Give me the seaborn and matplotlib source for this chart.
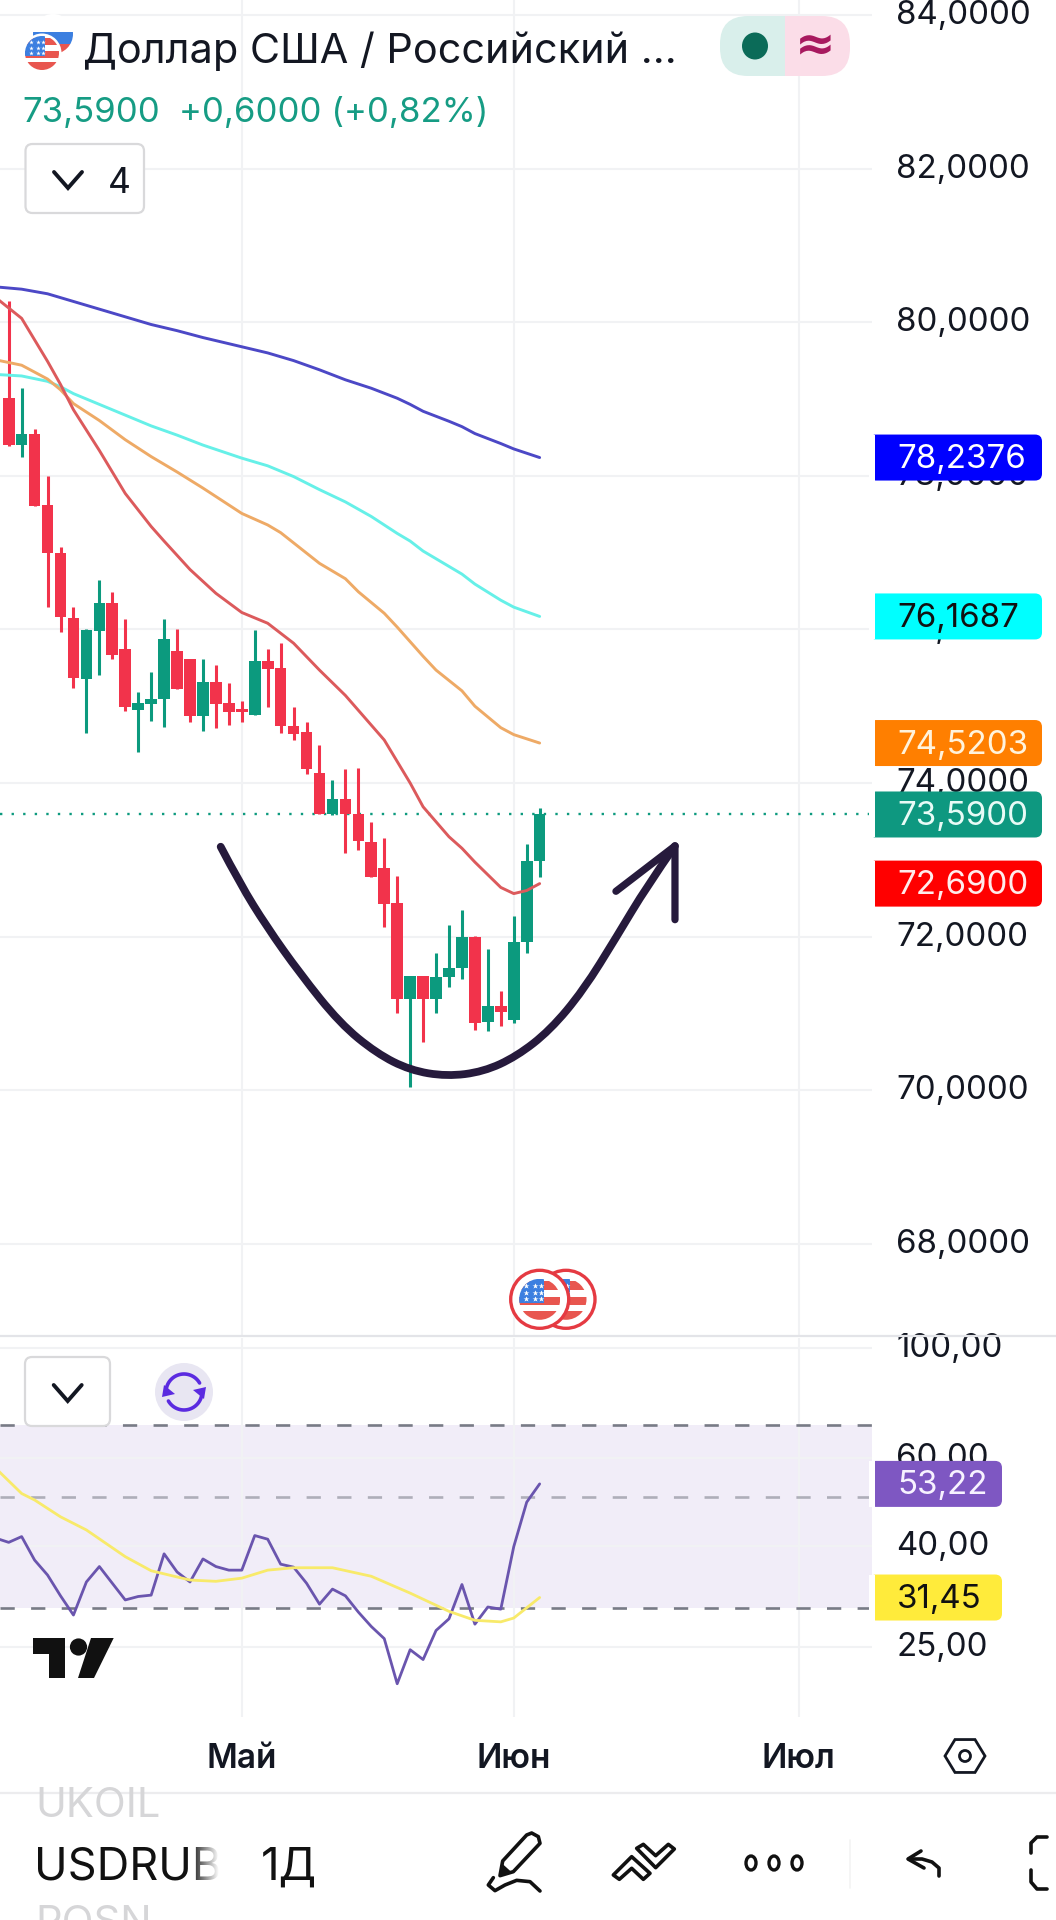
import numpy as np
import pandas as pd
import seaborn as sns
import matplotlib
matplotlib.use('Agg')
import matplotlib.pyplot as plt
from matplotlib.patches import Circle, Ellipse, FancyBboxPatch, PathPatch, Polygon, Rectangle
from matplotlib.path import Path
from matplotlib.ticker import NullLocator
from matplotlib.transforms import ScaledTranslation

# daily candles
open_p = [79.01, 78.40, 78.55, 77.62, 77.00, 76.15, 75.36, 75.98, 76.34, 75.75, 74.95, 75.03, 75.09, 75.72,
          75.62, 74.87, 75.31, 75.04, 74.96, 74.88, 75.59, 75.50, 74.74, 74.66, 74.13, 73.59, 73.79, 73.59,
          73.23, 72.89, 72.44, 71.19, 71.49, 71.19, 71.47, 71.59, 71.99, 70.89, 71.09, 70.91, 71.93, 72.99]
close_p = [78.40, 78.55, 77.61, 76.99, 76.16, 75.37, 75.99, 76.34, 75.67, 74.99, 75.04, 75.09, 75.88, 75.23,
           74.87, 75.32, 75.03, 74.93, 74.93, 75.59, 75.49, 74.74, 74.64, 74.18, 73.59, 73.79, 73.59, 73.25,
           72.77, 72.43, 71.19, 71.49, 71.19, 71.48, 71.59, 71.99, 70.88, 71.09, 71.02, 71.93, 72.99, 73.59]
high_p = [80.28, 79.14, 78.61, 78.00, 77.07, 76.29, 76.00, 76.64, 76.49, 76.14, 75.18, 75.44, 76.14, 76.00,
          75.62, 75.62, 75.54, 75.30, 75.07, 75.99, 75.75, 75.82, 74.99, 74.79, 74.49, 74.04, 74.18, 74.19,
          73.49, 73.28, 72.79, 71.49, 71.49, 71.79, 72.15, 72.35, 72.01, 71.84, 71.29, 72.27, 73.20, 73.68]
low_p = [78.39, 78.25, 77.61, 76.29, 75.96, 75.24, 74.65, 75.41, 75.62, 74.94, 74.41, 74.81, 74.73, 75.23,
         74.80, 74.68, 74.71, 74.75, 74.79, 74.88, 74.99, 74.65, 74.56, 74.12, 73.59, 73.58, 73.09, 73.13,
         72.77, 72.12, 71.00, 70.04, 70.63, 71.01, 71.35, 71.45, 70.79, 70.77, 70.83, 70.88, 71.79, 72.78]

# moving averages (bar index, value)
blue_i = [-1, 1, 3, 5, 7, 9, 11, 13, 15, 18, 20, 22, 24, 26, 28, 30, 31, 32, 34, 35, 36, 38, 39, 41]
blue_v = [80.46, 80.43, 80.37, 80.27, 80.17, 80.07, 79.97, 79.89, 79.80, 79.68, 79.60, 79.50, 79.38, 79.25,
          79.14, 79.01, 78.93, 78.84, 78.71, 78.64, 78.55, 78.42, 78.35, 78.2376]
cyan_i = [-1, 1, 3, 4, 5, 7, 9, 11, 13, 15, 18, 20, 22, 24, 26, 28, 30, 31, 32, 34, 35, 36, 38, 39, 41]
cyan_v = [79.32, 79.30, 79.23, 79.16, 79.07, 78.93, 78.79, 78.65, 78.53, 78.40, 78.23, 78.13, 77.99, 77.82,
          77.66, 77.47, 77.25, 77.15, 77.02, 76.82, 76.72, 76.59, 76.38, 76.29, 76.1687]
orange_i = [-1, 1, 3, 4, 5, 7, 9, 11, 13, 15, 18, 20, 21, 24, 26, 27, 29, 30, 31, 32, 33, 35, 36, 38, 39, 41]
orange_v = [79.51, 79.44, 79.26, 79.12, 78.94, 78.72, 78.47, 78.25, 78.05, 77.84, 77.51, 77.36, 77.26, 76.86,
            76.66, 76.49, 76.21, 76.03, 75.84, 75.65, 75.47, 75.20, 75.00, 74.72, 74.63, 74.5203]
red_i = [-1, 1, 3, 4, 5, 7, 9, 11, 12, 14, 16, 18, 20, 22, 24, 26, 29, 31, 32, 34, 35, 36, 38, 39, 40, 41]
red_v = [80.32, 80.05, 79.49, 79.19, 78.86, 78.33, 77.77, 77.34, 77.15, 76.78, 76.47, 76.22, 76.08, 75.82,
         75.47, 75.14, 74.56, 74.00, 73.69, 73.30, 73.15, 72.97, 72.64, 72.56, 72.60, 72.69]

# RSI panel
rsi_i = [-1] + list(range(42))
rsi_v = [41.4, 40.6, 41.7, 37.4, 34.9, 31.7, 29.0, 33.8, 36.3, 33.6, 31.1, 31.6, 31.8, 38.5, 35.4, 33.8, 37.6,
         36.3, 35.7, 35.7, 41.9, 41.2, 36.7, 36.2, 33.6, 30.5, 32.7, 31.7, 29.4, 27.5, 26.0, 21.1, 24.7, 23.6,
         27.0, 28.5, 33.4, 27.8, 30.1, 29.8, 39.8, 48.9, 53.22]
rsi_ma_i = [-1, 1, 2, 4, 6, 9, 11, 14, 16, 18, 20, 22, 25, 28, 31, 34, 36, 38, 39, 41]
rsi_ma_v = [57.2, 50.9, 49.4, 45.7, 43.0, 38.0, 35.6, 34.1, 33.9, 34.4, 35.7, 36.1, 36.1, 34.7, 32.1, 29.5,
            28.3, 28.1, 28.6, 31.45]

# hand drawn arc and arrow head on top of the chart
arc_i = [16.37, 17.86, 19.92, 22.49, 25.58, 28.41, 30.99, 33.82, 36.65, 39.22, 41.80, 44.37, 46.95, 49.26, 51.45]
arc_p = [73.17, 72.69, 72.13, 71.52, 70.87, 70.48, 70.26, 70.18, 70.24, 70.44, 70.78, 71.30, 72.00, 72.65, 73.18]
head_i = [46.89, 51.45, 51.45]
head_p = [72.59, 73.18, 72.22]

price_ticks = [68, 70, 72, 74, 76, 78, 80, 82, 84]
rsi_ticks = [25, 40, 60, 100]
month_pos = [18, 39, 61]
month_lab = ['Май', 'Июн', 'Июл']
price_tags = [(78.2376, '78,2376', '#0000ff', 'white'), (76.1687, '76,1687', '#00ffff', '#111111'),
              (74.5203, '74,5203', '#ff7f00', '#fff3dc'), (73.59, '73,5900', '#0e9880', '#e8fbf6'),
              (72.69, '72,6900', '#ff0000', '#ffecec')]
rsi_tags = [(53.22, '53,22', '#7e57c2', '#f7f2ff'), (31.45, '31,45', '#ffeb3b', '#111111')]

GREEN = '#0c9a7e'
RED = '#f2334b'
GRID = '#f1f2f4'
TXT = '#131722'
INK = '#261a3c'

sns.set_theme(style='white')
plt.rcParams['font.family'] = ['Inter', 'DejaVu Sans']

W, H = 1056, 1920
fig = plt.figure(figsize=(W / 100, H / 100), dpi=100, facecolor='white')
PLOT_R = 872
ax = fig.add_axes([0, 1 - 1336 / H, PLOT_R / W, 1336 / H])
ax_r = fig.add_axes([0, 1 - 1717 / H, PLOT_R / W, (1717 - 1338) / H])
ov = fig.add_axes([0, 0, 1, 1])

df = pd.DataFrame({'i': range(42), 'o': open_p, 'h': high_p, 'l': low_p, 'c': close_p})
df['col'] = np.where(df.c >= df.o, GREEN, RED)


def ma(a, xs, ys, color, lw=2.1):
    line = sns.lineplot(x=xs, y=ys, ax=a, color=color, lw=lw, legend=False, errorbar=None, zorder=4).lines[-1]
    line.set_solid_joinstyle('round')


# main panel
ax.vlines(df.i, df.l, df.h, colors=df.col, lw=2.2, zorder=2)
ax.bar(df.i, (df.c - df.o).abs(), bottom=df[['o', 'c']].min(axis=1), width=0.9, color=df.col, lw=0, zorder=3)
ma(ax, blue_i, blue_v, '#4c48c6')
ma(ax, cyan_i, cyan_v, '#66f0e8')
ma(ax, orange_i, orange_v, '#eeaa66')
ma(ax, red_i, red_v, '#dc5a5c')
ax.axhline(73.59, color=GREEN, lw=1.7, ls=(0, (1, 3.9)), zorder=1.5)

# arc as a smooth path through the midpoints
pts = np.column_stack([arc_i, arc_p])
verts = [pts[0]]
codes = [Path.MOVETO]
for k in range(1, len(pts) - 1):
    end = (pts[k] + pts[k + 1]) / 2 if k < len(pts) - 2 else pts[k + 1]
    verts += [pts[k], end]
    codes += [Path.CURVE3, Path.CURVE3]
ax.add_patch(PathPatch(Path(verts, codes), fc='none', ec=INK, lw=5.6, capstyle='round', zorder=6))
ax.plot(head_i, head_p, color=INK, lw=5.2, solid_capstyle='round', solid_joinstyle='round', zorder=6)

ax.set_xlim((0 - 8.7) / 12.95, (PLOT_R - 8.7) / 12.95)
ax.set_ylim(84 - (1336 - 15) / 76.8, 84 + 15 / 76.8)
ax.set_yticks(price_ticks)
ax.set_yticklabels([f'{t},0000' for t in price_ticks])
ax.set_xticks(month_pos)
ax.set_xticklabels([])

# rsi panel, log scale
ax_r.axhspan(30, 70, color='#7e57c2', alpha=0.10, lw=0, zorder=0.5)
ax_r.axhline(70, color='#787b86', lw=1.9, ls=(0, (5.4, 6.2)), zorder=1)
ax_r.axhline(50, color='#787b86', lw=1.9, alpha=0.55, ls=(0, (5.4, 6.2)), zorder=1)
ax_r.axhline(30, color='#787b86', lw=1.9, ls=(0, (5.4, 6.2)), zorder=1)
ma(ax_r, rsi_i, rsi_v, '#6a55ae', lw=2.0)
ma(ax_r, rsi_ma_i, rsi_ma_v, '#f8ea6a', lw=2.0)
ax_r.set_yscale('log')
ax_r.yaxis.set_minor_locator(NullLocator())
ax_r.set_xlim(ax.get_xlim())
ax_r.set_ylim(60 * np.exp((1458 - 1717) / 216), 60 * np.exp((1458 - 1338) / 216))
ax_r.set_yticks(rsi_ticks)
ax_r.set_yticklabels([f'{t},00' for t in rsi_ticks])
ax_r.set_xticks(month_pos)
ax_r.set_xticklabels(month_lab, fontsize=24, fontweight='semibold', color=TXT)
ax_r.tick_params(axis='x', length=0, pad=19)

for a in (ax, ax_r):
    a.set_xlabel('')
    a.set_ylabel('')
    a.set_facecolor('none')
    a.yaxis.tick_right()
    a.tick_params(axis='y', length=0, pad=17.3, labelsize=23.8, labelcolor=TXT)
    a.grid(True, color=GRID, lw=1.5, zorder=0)
    a.set_axisbelow(True)
    for s in a.spines.values():
        s.set_visible(False)
    # tick texts sit a little above their grid lines
    up = ScaledTranslation(0, 3 / 100, fig.dpi_scale_trans)
    for tick in a.yaxis.get_major_ticks():
        tick.label2.set_transform(tick.label2.get_transform() + up)

# app chrome in pixel coordinates
ov.set_xlim(0, W)
ov.set_ylim(H, 0)
ov.axis('off')
ov.patch.set_alpha(0)

ov.plot([0, W], [1336, 1336], color='#e3e4e8', lw=1.6)
ov.plot([0, W], [1793, 1793], color='#ececee', lw=1.6)


def tag(y, text, color, tcolor, right):
    ov.add_patch(FancyBboxPatch((869, y - 23), right - 869, 46, boxstyle='round,pad=0,rounding_size=7',
                                fc=color, ec='none', zorder=5))
    ov.add_patch(Rectangle((875 - 6, y - 23), 6, 46, fc='white', ec='none', zorder=5.5))
    ov.text(897, y - 1.5, text, color=tcolor, fontsize=23.8, va='center_baseline', ha='left', zorder=6)


for p, s, c, tc in price_tags:
    tag(15 + (84 - p) * 76.8, s, c, tc, 1042)
for v, s, c, tc in rsi_tags:
    tag(1458 + 216 * np.log(60 / v), s, c, tc, 1002)


def box(x0, y0, x1, y1):
    ov.add_patch(FancyBboxPatch((x0, y0), x1 - x0, y1 - y0, boxstyle='round,pad=0,rounding_size=7',
                                fc='white', ec='#d9d9db', lw=1.6, zorder=5))


def chevron(cx, cy, hw, hh):
    ov.plot([cx - hw, cx, cx + hw], [cy - hh, cy + hh, cy - hh], color='#131722', lw=2.8, zorder=6,
            solid_capstyle='round', solid_joinstyle='miter')


# header
ov.text(83, 47, 'Доллар США / Российский ...', fontsize=29.8, color=TXT, va='center_baseline')
ov.text(22, 109, '73,5900', fontsize=25, color='#169c84', va='center_baseline')
ov.text(179, 109, '+0,6000 (+0,82%)', fontsize=25, color='#169c84', va='center_baseline')
box(25.5, 144, 144, 213)
chevron(68, 180, 14, 8)
ov.text(108, 180, '4', fontsize=25.5, color=TXT, va='center_baseline', zorder=6)

# status pill
clip = FancyBboxPatch((720, 16), 130, 60, boxstyle='round,pad=0,rounding_size=28', fc='none', ec='none',
                      transform=ov.transData)
ov.add_patch(clip)
for x0, w, c in [(720, 65, '#d9efeb'), (785, 65, '#fbdde8')]:
    r = Rectangle((x0, 16), w, 60, fc=c, ec='none')
    ov.add_patch(r)
    r.set_clip_path(clip)
ov.add_patch(Ellipse((755, 46), 26, 27, fc='#0b6b58', ec='none'))
ov.text(815, 45, '≈', fontsize=35, color='#a8195f', ha='center', va='center', fontweight='bold',
        family='DejaVu Sans')


def us_flag(cx, cy, r, zorder):
    disc = Circle((cx, cy), r, fc='white', ec='none', zorder=zorder)
    ov.add_patch(disc)
    parts = [Rectangle((cx - r, cy - r * 0.9), 2 * r, r * 0.45, fc='#e8564f', ec='none', zorder=zorder),
             Rectangle((cx - r, cy - r * 0.1), 2 * r, r * 0.4, fc='#e8564f', ec='none', zorder=zorder),
             Rectangle((cx - r, cy + r * 0.55), 2 * r, r * 0.5, fc='#e8564f', ec='none', zorder=zorder),
             Rectangle((cx - r, cy - r), r * 1.2, r * 1.2, fc='#3c7fe0', ec='none', zorder=zorder)]
    for q in parts:
        ov.add_patch(q)
        q.set_clip_path(disc)
    for dx in (-0.65, -0.25, 0.05):
        for dy in (-0.65, -0.3, 0.0):
            ov.plot(cx + dx * r, cy + dy * r, marker='*', ms=r * 0.2, color='white', mec='none',
                    zorder=zorder + 0.1)


# header flags
ru = Circle((53, 34), 20, fc='white', ec='none', zorder=2)
ov.add_patch(ru)
for y0, y1, c in [(32, 44, '#3c7fe0'), (44, 55, '#e8564f')]:
    q = Rectangle((30, y0), 46, y1 - y0, fc=c, ec='none', zorder=2)
    ov.add_patch(q)
    q.set_clip_path(ru)
ov.add_patch(Circle((42, 53), 19.5, fc='white', ec='none', zorder=3))
us_flag(42, 53, 17, 3.2)

# event icons
for cx, z in [(566, 3), (539.7, 4)]:
    ov.add_patch(Circle((cx, 1299.3), 29, fc='white', ec='#e53a42', lw=2.4, zorder=z))
    us_flag(cx, 1299.3, 20.5, z + 0.2)

# rsi toolbar
box(25, 1357, 110, 1426)
chevron(67.7, 1393, 14, 8)
ov.add_patch(Circle((184, 1392), 29, fc='#e8e6f2', ec='none'))
th = np.radians(np.linspace(-170, -30, 30))
ov.plot(184 + 18 * np.cos(th), 1392 + 18 * np.sin(th), color='#5b2be0', lw=2.6)
ov.plot(184 - 18 * np.cos(th), 1392 - 18 * np.sin(th), color='#5b2be0', lw=2.6)
ov.add_patch(Polygon([[193, 1390], [206, 1387], [204, 1399]], fc='#5b2be0', ec='none'))
ov.add_patch(Polygon([[175, 1394], [162, 1397], [164, 1385]], fc='#5b2be0', ec='none'))

# logo
ov.add_patch(Polygon([[32.5, 1638], [65, 1638], [65, 1678], [48.6, 1678], [48.6, 1654], [32.5, 1654]],
                     fc='#111111', ec='none'))
ov.add_patch(Circle((78.5, 1647), 8.6, fc='#111111', ec='none'))
ov.add_patch(Polygon([[91, 1638], [113.7, 1638], [94, 1678], [78, 1678]], fc='#111111', ec='none'))

# settings hex on the date axis, flat top
a_hex = np.radians(np.arange(0, 360, 60))
ov.add_patch(Polygon(np.column_stack([965 + 20 * np.cos(a_hex), 1756 + 19 * np.sin(a_hex)]), fc='none',
                     ec='#131722', lw=2))
ov.add_patch(Circle((965, 1756), 5.5, fc='none', ec='#131722', lw=2))

# bottom bar
bar_clip = Rectangle((0, 1795), W, H - 1795, transform=ov.transData)
for s, y in [('UKOIL', 1806), ('POSN', 1924)]:
    t = ov.text(35, y, s, fontsize=30, color='#d6d6d8', va='center')
    t.set_clip_path(bar_clip)
ov.text(34, 1863, 'USDRUB', fontsize=32.5, color='#111111', va='center_baseline', zorder=3)
grad = np.ones((1, 40, 4))
grad[..., 3] = np.linspace(0, 1, 40)
ov.imshow(grad, extent=(190, 219, 1900, 1830), aspect='auto', zorder=4)
ov.add_patch(Rectangle((219, 1830), 30, 70, fc='white', ec='none', zorder=4))
ov.text(261, 1863, '1Д', fontsize=33, color='#111111', va='center_baseline', zorder=5)


# drawing tool icons, outlines follow the crop of the toolbar
def px(pairs):
    return np.array([[480 + x / 3, 1825 + y / 3] for x, y in pairs])


def outline(pairs):
    ov.add_patch(Polygon(px(pairs), fc='none', ec='#111111', lw=2.6, joinstyle='round'))


icon = dict(color='#111111', lw=2.6, solid_joinstyle='round', solid_capstyle='round')
outline([(68, 108), (140, 30), (155, 24), (175, 35), (180, 55), (100, 140), (60, 152)])
ov.add_patch(Polygon(px([(68, 120), (90, 140), (60, 152)]), fc='#111111', ec='#111111', lw=1))
sq = px([(40, 158), (25, 180), (45, 197), (75, 180), (110, 166), (150, 170), (180, 198)])
ov.plot(sq[:, 0], sq[:, 1], **icon)
outline([(400, 150), (455, 95), (510, 145), (490, 163), (455, 130), (418, 163)])
outline([(470, 70), (490, 58), (527, 92), (565, 58), (583, 72), (527, 128)])
for cx in (751, 774, 797):
    ov.add_patch(Ellipse((cx, 1863), 10, 14, fc='none', ec='#111111', lw=2.4))
ov.plot([850, 850], [1840, 1888], color='#f3f3f4', lw=1.2)
ov.plot([939, 939, 932, 922, 909], [1876, 1868, 1862, 1859, 1859], **icon)
ov.plot([921, 908, 924], [1851, 1859, 1868], **icon)
ov.plot([1047, 1037, 1031, 1031], [1837, 1837, 1843, 1853], **icon)
ov.plot([1031, 1031, 1037, 1047], [1870, 1882, 1889, 1889], **icon)

ov.set_xlim(0, W)
ov.set_ylim(H, 0)

plt.savefig('out.png', dpi=100)
